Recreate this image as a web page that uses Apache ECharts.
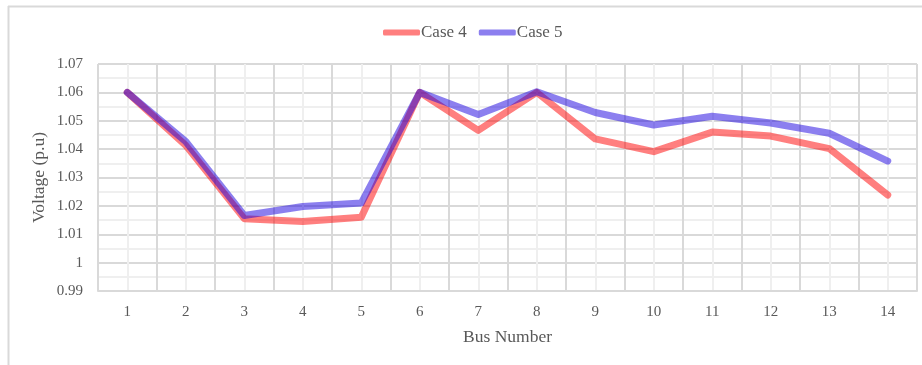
<!DOCTYPE html>
<html>
<head>
<meta charset="utf-8">
<script src="https://cdn.jsdelivr.net/npm/echarts@6/dist/echarts.min.js"></script>
<style>
  html, body { margin: 0; padding: 0; background: #fff; }
  #chart { width: 922px; height: 365px; }
</style>
</head>
<body>
<div id="chart"></div>
<script>
// Bus voltage profile for the two cases
const busNumbers = [1, 2, 3, 4, 5, 6, 7, 8, 9, 10, 11, 12, 13, 14];
const case4 = [1.060, 1.0413, 1.0155, 1.0145, 1.0160, 1.0600, 1.0466, 1.0600, 1.0436, 1.0391, 1.0460, 1.0446, 1.0402, 1.0238];
const case5 = [1.060, 1.0427, 1.0166, 1.0198, 1.0210, 1.0600, 1.0522, 1.0602, 1.0529, 1.0485, 1.0516, 1.0492, 1.0456, 1.0358];
const yTicks = { min: 0.99, max: 1.07, step: 0.01 };

const FONT = '"Liberation Serif", "Times New Roman", serif';
const TEXT = '#595959';
const MAJOR = '#d9d9d9';
const MINOR = '#efefef';
const RED = 'rgba(255, 0, 0, 0.5)';
const BLUE = 'rgba(26, 0, 224, 0.5)';

const chart = echarts.init(document.getElementById('chart'), null, { renderer: 'canvas' });

const lineSeries = (name, color, values) => ({
  name,
  type: 'line',
  data: busNumbers.map((b, i) => [b, values[i]]),
  symbol: 'none',
  color,
  lineStyle: { width: 7, color, cap: 'round', join: 'round' },
  emphasis: { disabled: true },
  animation: false
});

chart.setOption({
  animation: false,
  legend: {
    top: 19,
    left: 378,
    itemWidth: 37,
    itemHeight: 6,
    itemGap: 12,
    textStyle: { fontFamily: FONT, fontSize: 17, color: TEXT, padding: [0, 0, 0, -4] },
    data: [
      { name: 'Case 4', icon: 'roundRect', itemStyle: { color: RED } },
      { name: 'Case 5', icon: 'roundRect', itemStyle: { color: BLUE } }
    ]
  },
  grid: { left: 98, right: 5, top: 64, bottom: 74 },
  xAxis: {
    type: 'value',
    min: 0.5,
    max: 14.5,
    interval: 0.5,
    name: 'Bus Number',
    nameLocation: 'middle',
    nameGap: 37,
    nameMoveOverlap: false,
    nameTextStyle: { fontFamily: FONT, fontSize: 17.5, color: TEXT },
    axisLine: { show: true, lineStyle: { color: MAJOR, width: 2 } },
    axisTick: { show: false },
    axisLabel: {
      margin: 14,
      fontFamily: FONT, fontSize: 15, color: TEXT,
      formatter: v => (Math.abs(v - Math.round(v)) < 1e-6 && busNumbers.includes(Math.round(v))) ? String(Math.round(v)) : ''
    },
    splitLine: { show: true, lineStyle: { color: [MAJOR, MINOR], width: 2 } }
  },
  yAxis: {
    type: 'value',
    min: yTicks.min,
    max: yTicks.max,
    interval: yTicks.step,
    name: 'Voltage (p.u)',
    nameLocation: 'middle',
    nameGap: 50,
    nameMoveOverlap: false,
    nameTextStyle: { fontFamily: FONT, fontSize: 17.5, color: TEXT },
    axisLine: { show: false },
    axisTick: { show: false },
    axisLabel: {
      margin: 15,
      fontFamily: FONT, fontSize: 15, color: TEXT,
      formatter: v => String(parseFloat(v.toFixed(2)))
    },
    splitLine: { show: true, lineStyle: { color: MAJOR, width: 2 } },
    minorTick: { show: false, splitNumber: 2 },
    minorSplitLine: { show: true, lineStyle: { color: MINOR, width: 2 } }
  },
  graphic: [
    { type: 'line', shape: { x1: 8, y1: 6.5, x2: 922, y2: 6.5 }, style: { stroke: MAJOR, lineWidth: 2 }, silent: true },
    { type: 'line', shape: { x1: 8.5, y1: 6, x2: 8.5, y2: 365 }, style: { stroke: MAJOR, lineWidth: 2 }, silent: true }
  ],
  series: [
    lineSeries('Case 4', RED, case4),
    lineSeries('Case 5', BLUE, case5)
  ]
});
</script>
</body>
</html>
